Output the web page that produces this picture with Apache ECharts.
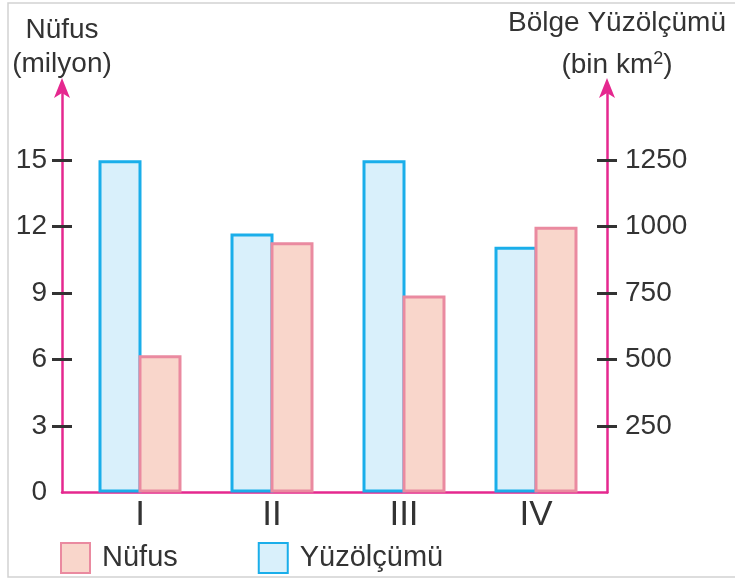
<!DOCTYPE html>
<html>
<head>
<meta charset="utf-8">
<script src="https://cdn.jsdelivr.net/npm/echarts@6/dist/echarts.min.js"></script>
<style>
  html, body { margin: 0; padding: 0; background: #fff; }
  #main { width: 735px; height: 581px; }
</style>
</head>
<body>
<div id="main"></div>
<script>
// kategoriler ve veriler
var bolgeler = ['I', 'II', 'III', 'IV'];
var nufus = [6.2, 11.3, 8.9, 12];            // milyon
var yuzolcumu = [1250, 975, 1250, 925];      // bin km2
var nufusTicks = [3, 6, 9, 12, 15];
var nufusLabels = [0, 3, 6, 9, 12, 15];
var alanTicks = [250, 500, 750, 1000, 1250];

var pembe = '#e5288f';
var yazi = '#333';
var font = 'Liberation Sans';

var myChart = echarts.init(document.getElementById('main'));

var option = {
    backgroundColor: '#fff',
    textStyle: { fontFamily: font },
    graphic: [{
        type: 'rect',
        z: -10,
        shape: { x: 8, y: 3, width: 740, height: 574 },
        style: { fill: 'none', stroke: '#d2d2d2', lineWidth: 1.5 }
    }],
    legend: {
        left: 55,
        top: 537,
        itemWidth: 29,
        itemHeight: 30,
        itemGap: 80,
        icon: 'rect',
        data: ['Nüfus', 'Yüzölçümü'],
        textStyle: { fontSize: 29, color: yazi, fontFamily: font, padding: [0, 0, 0, 7] }
    },
    grid: [
        { left: 74, right: 133, top: 85, bottom: 88.5 },
        { left: 62, right: 128, top: 85, bottom: 88.5 }
    ],
    xAxis: [{
        type: 'category',
        gridIndex: 0,
        data: bolgeler,
        axisLine: { show: false },
        axisTick: { show: false },
        axisLabel: { fontSize: 35, color: yazi, margin: 5, fontFamily: font }
    }, {
        type: 'category',
        gridIndex: 1,
        data: bolgeler,
        axisLine: { lineStyle: { color: pembe, width: 2.5 } },
        axisTick: { show: false },
        axisLabel: { show: false }
    }],
    yAxis: [{
        // sol eksen (Nüfus) - çizgi ve etiketler
        type: 'value',
        gridIndex: 1,
        position: 'left',
        min: 0,
        max: 18.4,
        splitLine: { show: false },
        axisLine: {
            show: true,
            symbol: ['none', 'arrow'],
            symbolSize: [12, 20],
            symbolOffset: [0, 7],
            lineStyle: { color: pembe, width: 2.5 }
        },
        axisTick: { show: true, length: 10, customValues: nufusTicks, lineStyle: { color: yazi, width: 3 } },
        axisLabel: { customValues: nufusLabels, fontSize: 28, color: yazi, margin: 15, fontFamily: font },
        name: 'Nüfus\n(milyon)',
        nameLocation: 'end',
        nameGap: 4,
        nameTextStyle: { fontSize: 28, lineHeight: 34, color: yazi, align: 'center', verticalAlign: 'bottom', fontFamily: font }
    }, {
        // sağ eksen (Yüzölçümü)
        type: 'value',
        gridIndex: 1,
        position: 'right',
        min: 0,
        max: 1533.33,
        splitLine: { show: false },
        axisLine: {
            show: true,
            symbol: ['none', 'arrow'],
            symbolSize: [12, 20],
            symbolOffset: [0, 7],
            lineStyle: { color: pembe, width: 2.5 }
        },
        axisTick: { show: true, length: 10, customValues: alanTicks, lineStyle: { color: yazi, width: 3 } },
        axisLabel: {
            customValues: alanTicks, fontSize: 28, color: yazi, margin: 18, fontFamily: font,
            formatter: function (v) { return String(v); }
        },
        name: '{a|Bölge Yüzölçümü}\n{a|(bin km}{s|2}{a|)}',
        nameLocation: 'end',
        nameGap: -1,
        nameTextStyle: {
            color: yazi, align: 'center', verticalAlign: 'bottom', padding: [0, 0, 0, 20],
            rich: {
                a: { fontSize: 28, lineHeight: 42, color: yazi, fontFamily: font },
                s: { fontSize: 18, lineHeight: 18, color: yazi, fontFamily: font, verticalAlign: 'top', padding: [6, 0, 0, 0] }
            }
        }
    }, {
        // bar grid sol eksen: iç tikler
        type: 'value',
        gridIndex: 0,
        position: 'left',
        offset: 12,
        min: 0,
        max: 18.4,
        splitLine: { show: false },
        axisLine: { show: false },
        axisTick: { show: true, inside: true, length: 10, customValues: nufusTicks, lineStyle: { color: yazi, width: 3 } },
        axisLabel: { show: false }
    }, {
        type: 'value',
        gridIndex: 0,
        position: 'right',
        offset: 5,
        min: 0,
        max: 1533.33,
        splitLine: { show: false },
        axisLine: { show: false },
        axisTick: { show: true, inside: true, length: 10, customValues: alanTicks, lineStyle: { color: yazi, width: 3 } },
        axisLabel: { show: false }
    }],
    series: [{
        name: 'Yüzölçümü',
        type: 'bar',
        xAxisIndex: 0,
        yAxisIndex: 3,
        barWidth: 43,
        barGap: '-7%',
        data: yuzolcumu,
        itemStyle: { color: '#d9f0fb', borderColor: '#1aaeea', borderWidth: 3 }
    }, {
        name: 'Nüfus',
        type: 'bar',
        xAxisIndex: 0,
        yAxisIndex: 2,
        barWidth: 43,
        barGap: '-7%',
        data: nufus,
        itemStyle: { color: '#f9d6cb', borderColor: '#ea8aa0', borderWidth: 3 }
    }]
};

myChart.setOption(option);
</script>
</body>
</html>
